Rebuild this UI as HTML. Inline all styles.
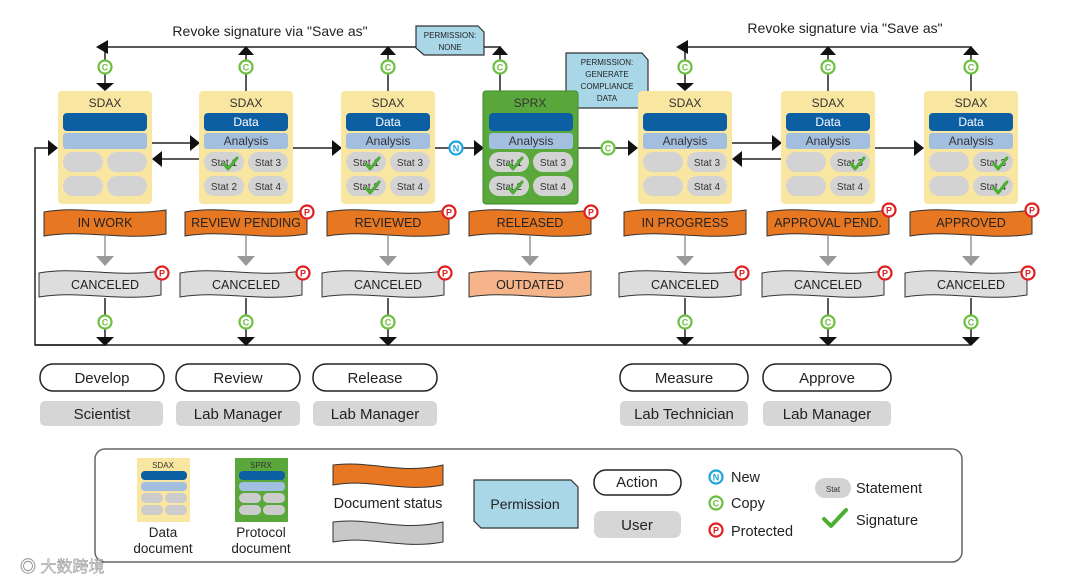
<!DOCTYPE html>
<html><head><meta charset="utf-8"><style>
html,body{margin:0;padding:0;background:#fff;}
svg{display:block;font-family:"Liberation Sans",sans-serif;}
</style></head><body>
<svg width="1080" height="584" viewBox="0 0 1080 584" xmlns="http://www.w3.org/2000/svg">
<defs>
<g id="cC"><circle r="6.5" fill="#fff" stroke="#6cbf3f" stroke-width="2.2"/><text y="3.5" text-anchor="middle" font-size="9" font-weight="bold" fill="#6cbf3f">C</text></g>
<g id="cP"><circle r="6.5" fill="#fff" stroke="#e02020" stroke-width="2.2"/><text y="3.5" text-anchor="middle" font-size="9" font-weight="bold" fill="#e02020">P</text></g>
<g id="cN"><circle r="6.5" fill="#fff" stroke="#1fa3dc" stroke-width="2.2"/><text y="3.5" text-anchor="middle" font-size="9" font-weight="bold" fill="#1fa3dc">N</text></g>
<path id="chk" d="M-6,0 L-2,5 L7,-6" fill="none" stroke="#4caf33" stroke-width="3" stroke-linecap="round" stroke-linejoin="round"/>
<path id="ban" d="M0,3 C37,-4 74,8 122,1 L122,25 C80,32 40,20 0,27 Z"/>
</defs>
<g stroke="#222" stroke-width="1.5" fill="none">
<polyline points="105,88 105,47 416,47"/>
<line x1="246" y1="47" x2="246" y2="91"/>
<line x1="388" y1="47" x2="388" y2="91"/>
<polyline points="484,47 500,47 500,91"/>
<polyline points="685,88 685,47 971,47 971,91"/>
<line x1="828" y1="47" x2="828" y2="91"/>
<polyline points="105,298 105,345 35,345 35,148 52,148"/>
<line x1="35" y1="345" x2="970" y2="345"/>
<line x1="246" y1="298" x2="246" y2="345"/>
<line x1="388" y1="298" x2="388" y2="345"/>
<line x1="685" y1="298" x2="685" y2="345"/>
<line x1="828" y1="298" x2="828" y2="345"/>
<line x1="971" y1="298" x2="971" y2="345"/>
<line x1="152" y1="143" x2="195" y2="143"/>
<line x1="200" y1="159" x2="158" y2="159"/>
<line x1="293" y1="148" x2="336" y2="148"/>
<line x1="435" y1="148" x2="478" y2="148"/>
<line x1="577" y1="148" x2="632" y2="148"/>
<line x1="732" y1="143" x2="776" y2="143"/>
<line x1="781" y1="159" x2="738" y2="159"/>
<line x1="875" y1="148" x2="918" y2="148"/>
</g>
<g fill="#111">
<polygon points="96,47 108,40 108,54"/>
<polygon points="96,83 114,83 105,91"/>
<polygon points="238,55 254,55 246,46"/>
<polygon points="380,55 396,55 388,46"/>
<polygon points="492,55 508,55 500,46"/>
<polygon points="676,47 688,40 688,54"/>
<polygon points="676,83 694,83 685,91"/>
<polygon points="820,55 836,55 828,46"/>
<polygon points="963,55 979,55 971,46"/>
<polygon points="58,148 48,140 48,156"/>
<polygon points="200,143 190,135 190,151"/>
<polygon points="152,159 162,151 162,167"/>
<polygon points="342,148 332,140 332,156"/>
<polygon points="484,148 474,140 474,156"/>
<polygon points="638,148 628,140 628,156"/>
<polygon points="782,143 772,135 772,151"/>
<polygon points="732,159 742,151 742,167"/>
<polygon points="924,148 914,140 914,156"/>
<polygon points="96,337 114,337 105,346"/><polygon points="237,337 255,337 246,346"/><polygon points="379,337 397,337 388,346"/>
<polygon points="676,337 694,337 685,346"/><polygon points="819,337 837,337 828,346"/><polygon points="962,337 980,337 971,346"/>
</g>
<text x="270" y="36" text-anchor="middle" font-size="14" fill="#222">Revoke signature via "Save as"</text>
<text x="845" y="33" text-anchor="middle" font-size="14" fill="#222">Revoke signature via "Save as"</text>
<path d="M416,26 L478,26 L484,32 L484,55 L424,55 L416,48 Z" fill="#a9d7e8" stroke="#333" stroke-width="1.2"/>
<text x="450" y="38" text-anchor="middle" font-size="8" fill="#222">PERMISSION:</text>
<text x="450" y="50" text-anchor="middle" font-size="8" fill="#222">NONE</text>
<path d="M566,53 L642,53 L648,60 L648,108 L574,108 L566,101 Z" fill="#a9d7e8" stroke="#333" stroke-width="1.2"/>
<g font-size="8" fill="#222" text-anchor="middle"><text x="607" y="65">PERMISSION:</text><text x="607" y="77">GENERATE</text><text x="607" y="89">COMPLIANCE</text><text x="607" y="101">DATA</text></g>
<use href="#cC" x="105" y="67"/><use href="#cC" x="246" y="67"/><use href="#cC" x="388" y="67"/><use href="#cC" x="500" y="67"/>
<use href="#cC" x="685" y="67"/><use href="#cC" x="828" y="67"/><use href="#cC" x="971" y="67"/>
<use href="#cC" x="105" y="322"/><use href="#cC" x="246" y="322"/><use href="#cC" x="388" y="322"/>
<use href="#cC" x="685" y="322"/><use href="#cC" x="828" y="322"/><use href="#cC" x="971" y="322"/>
<use href="#cN" x="456" y="148"/><use href="#cC" x="608" y="148"/>
<g font-size="12" text-anchor="middle">
<rect x="58" y="91" width="94" height="113" rx="4" fill="#f9e6a0"/>
<text x="105" y="107" fill="#333">SDAX</text>
<rect x="63" y="113" width="84" height="18" rx="4" fill="#0d5fa3"/>
<rect x="63" y="133" width="84" height="16" rx="3" fill="#a3bfe0"/>
<rect x="63" y="152" width="40" height="20" rx="10" fill="#d3d3d3"/><rect x="107" y="152" width="40" height="20" rx="10" fill="#d3d3d3"/>
<rect x="63" y="176" width="40" height="20" rx="10" fill="#d3d3d3"/><rect x="107" y="176" width="40" height="20" rx="10" fill="#d3d3d3"/>
</g>
<g font-size="12" text-anchor="middle" fill="#333">
<rect x="199" y="91" width="94" height="113" rx="4" fill="#f9e6a0"/>
<text x="246" y="107">SDAX</text>
<rect x="204" y="113" width="84" height="18" rx="4" fill="#0d5fa3"/><text x="246" y="126" fill="#fff">Data</text>
<rect x="204" y="133" width="84" height="16" rx="3" fill="#a3bfe0"/><text x="246" y="145">Analysis</text>
<rect x="204" y="152" width="40" height="20" rx="10" fill="#d3d3d3"/><rect x="248" y="152" width="40" height="20" rx="10" fill="#d3d3d3"/>
<rect x="204" y="176" width="40" height="20" rx="10" fill="#d3d3d3"/><rect x="248" y="176" width="40" height="20" rx="10" fill="#d3d3d3"/>
<g font-size="10"><text x="224" y="166">Stat 1</text><text x="268" y="166">Stat 3</text><text x="224" y="190">Stat 2</text><text x="268" y="190">Stat 4</text></g>
<use href="#chk" x="230" y="164"/>

<rect x="341" y="91" width="94" height="113" rx="4" fill="#f9e6a0"/>
<text x="388" y="107">SDAX</text>
<rect x="346" y="113" width="84" height="18" rx="4" fill="#0d5fa3"/><text x="388" y="126" fill="#fff">Data</text>
<rect x="346" y="133" width="84" height="16" rx="3" fill="#a3bfe0"/><text x="388" y="145">Analysis</text>
<rect x="346" y="152" width="40" height="20" rx="10" fill="#d3d3d3"/><rect x="390" y="152" width="40" height="20" rx="10" fill="#d3d3d3"/>
<rect x="346" y="176" width="40" height="20" rx="10" fill="#d3d3d3"/><rect x="390" y="176" width="40" height="20" rx="10" fill="#d3d3d3"/>
<g font-size="10"><text x="366" y="166">Stat 1</text><text x="410" y="166">Stat 3</text><text x="366" y="190">Stat 2</text><text x="410" y="190">Stat 4</text></g>
<use href="#chk" x="372" y="164"/><use href="#chk" x="372" y="188"/>

<rect x="483" y="91" width="95" height="113" rx="3" fill="#5aa83c" stroke="#3e8a2a"/>
<text x="530" y="107">SPRX</text>
<rect x="489" y="113" width="84" height="18" rx="4" fill="#0d5fa3"/>
<rect x="489" y="133" width="84" height="16" rx="3" fill="#a3bfe0"/><text x="531" y="145">Analysis</text>
<rect x="489" y="152" width="40" height="20" rx="10" fill="#d3d3d3"/><rect x="533" y="152" width="40" height="20" rx="10" fill="#d3d3d3"/>
<rect x="489" y="176" width="40" height="20" rx="10" fill="#d3d3d3"/><rect x="533" y="176" width="40" height="20" rx="10" fill="#d3d3d3"/>
<g font-size="10"><text x="509" y="166">Stat 1</text><text x="553" y="166">Stat 3</text><text x="509" y="190">Stat 2</text><text x="553" y="190">Stat 4</text></g>
<use href="#chk" x="515" y="164"/><use href="#chk" x="515" y="188"/>

<rect x="638" y="91" width="94" height="113" rx="4" fill="#f9e6a0"/>
<text x="685" y="107">SDAX</text>
<rect x="643" y="113" width="84" height="18" rx="4" fill="#0d5fa3"/>
<rect x="643" y="133" width="84" height="16" rx="3" fill="#a3bfe0"/><text x="685" y="145">Analysis</text>
<rect x="643" y="152" width="40" height="20" rx="10" fill="#d3d3d3"/><rect x="687" y="152" width="40" height="20" rx="10" fill="#d3d3d3"/>
<rect x="643" y="176" width="40" height="20" rx="10" fill="#d3d3d3"/><rect x="687" y="176" width="40" height="20" rx="10" fill="#d3d3d3"/>
<g font-size="10"><text x="707" y="166">Stat 3</text><text x="707" y="190">Stat 4</text></g>

<rect x="781" y="91" width="94" height="113" rx="4" fill="#f9e6a0"/>
<text x="828" y="107">SDAX</text>
<rect x="786" y="113" width="84" height="18" rx="4" fill="#0d5fa3"/><text x="828" y="126" fill="#fff">Data</text>
<rect x="786" y="133" width="84" height="16" rx="3" fill="#a3bfe0"/><text x="828" y="145">Analysis</text>
<rect x="786" y="152" width="40" height="20" rx="10" fill="#d3d3d3"/><rect x="830" y="152" width="40" height="20" rx="10" fill="#d3d3d3"/>
<rect x="786" y="176" width="40" height="20" rx="10" fill="#d3d3d3"/><rect x="830" y="176" width="40" height="20" rx="10" fill="#d3d3d3"/>
<g font-size="10"><text x="850" y="166">Stat 3</text><text x="850" y="190">Stat 4</text></g>
<use href="#chk" x="857" y="164"/>

<rect x="924" y="91" width="94" height="113" rx="4" fill="#f9e6a0"/>
<text x="971" y="107">SDAX</text>
<rect x="929" y="113" width="84" height="18" rx="4" fill="#0d5fa3"/><text x="971" y="126" fill="#fff">Data</text>
<rect x="929" y="133" width="84" height="16" rx="3" fill="#a3bfe0"/><text x="971" y="145">Analysis</text>
<rect x="929" y="152" width="40" height="20" rx="10" fill="#d3d3d3"/><rect x="973" y="152" width="40" height="20" rx="10" fill="#d3d3d3"/>
<rect x="929" y="176" width="40" height="20" rx="10" fill="#d3d3d3"/><rect x="973" y="176" width="40" height="20" rx="10" fill="#d3d3d3"/>
<g font-size="10"><text x="993" y="166">Stat 3</text><text x="993" y="190">Stat 4</text></g>
<use href="#chk" x="1000" y="164"/><use href="#chk" x="1000" y="188"/>
</g>
<g stroke="#333" stroke-width="1">
<use href="#ban" x="44" y="209" fill="#e87722"/><use href="#ban" x="185" y="209" fill="#e87722"/><use href="#ban" x="327" y="209" fill="#e87722"/>
<use href="#ban" x="469" y="209" fill="#e87722"/><use href="#ban" x="624" y="209" fill="#e87722"/><use href="#ban" x="767" y="209" fill="#e87722"/><use href="#ban" x="910" y="209" fill="#e87722"/>
<use href="#ban" x="39" y="270" fill="#dddddd"/><use href="#ban" x="180" y="270" fill="#dddddd"/><use href="#ban" x="322" y="270" fill="#dddddd"/>
<use href="#ban" x="469" y="270" fill="#f5b48a"/><use href="#ban" x="619" y="270" fill="#dddddd"/><use href="#ban" x="762" y="270" fill="#dddddd"/><use href="#ban" x="905" y="270" fill="#dddddd"/>
</g>
<g font-size="12.5" fill="#222" text-anchor="middle">
<text x="105" y="227">IN WORK</text><text x="246" y="227">REVIEW PENDING</text><text x="388" y="227">REVIEWED</text><text x="530" y="227">RELEASED</text>
<text x="685" y="227">IN PROGRESS</text><text x="828" y="227">APPROVAL PEND.</text><text x="971" y="227">APPROVED</text>
<text x="105" y="289">CANCELED</text><text x="246" y="289">CANCELED</text><text x="388" y="289">CANCELED</text><text x="530" y="289">OUTDATED</text>
<text x="685" y="289">CANCELED</text><text x="828" y="289">CANCELED</text><text x="971" y="289">CANCELED</text>
</g>
<g stroke="#999" stroke-width="1.5"><line x1="105" y1="236" x2="105" y2="258"/><line x1="246" y1="236" x2="246" y2="258"/><line x1="388" y1="236" x2="388" y2="258"/><line x1="530" y1="236" x2="530" y2="258"/><line x1="685" y1="236" x2="685" y2="258"/><line x1="828" y1="236" x2="828" y2="258"/><line x1="971" y1="236" x2="971" y2="258"/></g>
<g fill="#999"><polygon points="96,256 114,256 105,266"/><polygon points="237,256 255,256 246,266"/><polygon points="379,256 397,256 388,266"/><polygon points="521,256 539,256 530,266"/><polygon points="676,256 694,256 685,266"/><polygon points="819,256 837,256 828,266"/><polygon points="962,256 980,256 971,266"/></g>
<use href="#cP" x="307" y="212"/><use href="#cP" x="449" y="212"/><use href="#cP" x="591" y="212"/><use href="#cP" x="889" y="210"/><use href="#cP" x="1032" y="210"/>
<use href="#cP" x="162" y="273"/><use href="#cP" x="303" y="273"/><use href="#cP" x="445" y="273"/><use href="#cP" x="742" y="273"/><use href="#cP" x="885" y="273"/><use href="#cP" x="1028" y="273"/>
<g fill="#fff" stroke="#222" stroke-width="1.5">
<rect x="40" y="364" width="124" height="27" rx="13"/><rect x="176" y="364" width="124" height="27" rx="13"/><rect x="313" y="364" width="124" height="27" rx="13"/>
<rect x="620" y="364" width="128" height="27" rx="13"/><rect x="763" y="364" width="128" height="27" rx="13"/>
</g>
<g fill="#d6d6d6"><rect x="40" y="401" width="123" height="25" rx="5"/><rect x="176" y="401" width="124" height="25" rx="5"/><rect x="313" y="401" width="124" height="25" rx="5"/><rect x="620" y="401" width="128" height="25" rx="5"/><rect x="763" y="401" width="128" height="25" rx="5"/></g>
<g font-size="15" fill="#222" text-anchor="middle">
<text x="102" y="383">Develop</text><text x="238" y="383">Review</text><text x="375" y="383">Release</text><text x="684" y="383">Measure</text><text x="827" y="383">Approve</text>
<text x="102" y="419">Scientist</text><text x="238" y="419">Lab Manager</text><text x="375" y="419">Lab Manager</text><text x="684" y="419">Lab Technician</text><text x="827" y="419">Lab Manager</text>
</g>
<rect x="95" y="449" width="867" height="113" rx="10" fill="#fff" stroke="#666" stroke-width="1.5"/>
<rect x="137" y="458" width="53" height="64" fill="#f9e6a0"/>
<text x="163" y="468" font-size="8" text-anchor="middle" fill="#333">SDAX</text>
<rect x="141" y="471" width="46" height="9" rx="4" fill="#0d5fa3"/><rect x="141" y="482" width="46" height="9" rx="4" fill="#a3bfe0"/>
<rect x="141" y="493" width="22" height="10" rx="5" fill="#ccc"/><rect x="165" y="493" width="22" height="10" rx="5" fill="#ccc"/>
<rect x="141" y="505" width="22" height="10" rx="5" fill="#ccc"/><rect x="165" y="505" width="22" height="10" rx="5" fill="#ccc"/>
<rect x="235" y="458" width="53" height="64" fill="#5aa83c"/>
<text x="261" y="468" font-size="8" text-anchor="middle" fill="#333">SPRX</text>
<rect x="239" y="471" width="46" height="9" rx="4" fill="#0d5fa3"/><rect x="239" y="482" width="46" height="9" rx="4" fill="#a3bfe0"/>
<rect x="239" y="493" width="22" height="10" rx="5" fill="#ccc"/><rect x="263" y="493" width="22" height="10" rx="5" fill="#ccc"/>
<rect x="239" y="505" width="22" height="10" rx="5" fill="#ccc"/><rect x="263" y="505" width="22" height="10" rx="5" fill="#ccc"/>
<g font-size="13.5" fill="#222" text-anchor="middle">
<text x="163" y="537">Data</text><text x="163" y="553">document</text>
<text x="261" y="537">Protocol</text><text x="261" y="553">document</text>
<text x="388" y="508" font-size="14.5">Document status</text>
</g>
<path d="M333,465 C370,460 400,475 443,465 L443,485 C400,493 370,478 333,485 Z" fill="#e87722" stroke="#333"/>
<path d="M333,522 C370,517 400,532 443,522 L443,542 C400,550 370,535 333,542 Z" fill="#c8c8c8" stroke="#333"/>
<path d="M474,480 L571,480 L578,487 L578,528 L481,528 L474,521 Z" fill="#a9d7e8" stroke="#333" stroke-width="1.2"/>
<text x="525" y="509" font-size="14" text-anchor="middle" fill="#222">Permission</text>
<rect x="594" y="470" width="87" height="25" rx="12" fill="#fff" stroke="#222" stroke-width="1.5"/>
<text x="637" y="487" font-size="15" text-anchor="middle" fill="#222">Action</text>
<rect x="594" y="511" width="87" height="27" rx="7" fill="#d6d6d6"/>
<text x="637" y="530" font-size="15" text-anchor="middle" fill="#222">User</text>
<use href="#cN" x="716" y="477"/><use href="#cC" x="716" y="503"/><use href="#cP" x="716" y="530"/>
<g font-size="14.5" fill="#222"><text x="731" y="482">New</text><text x="731" y="508">Copy</text><text x="731" y="536">Protected</text>
<text x="856" y="493">Statement</text><text x="856" y="525">Signature</text></g>
<rect x="815" y="478" width="36" height="20" rx="10" fill="#d3d3d3"/>
<text x="833" y="492" font-size="8" text-anchor="middle" fill="#333">Stat</text>
<path d="M824,519 L831,526 L846,510" fill="none" stroke="#4caf33" stroke-width="4" stroke-linecap="round" stroke-linejoin="round"/>
<text x="20" y="572" font-size="16" fill="#ddd" stroke="#888" stroke-width="0.4" font-family="'Liberation Sans','Noto Sans CJK SC',sans-serif">◎ 大数跨境</text>
</svg>
</body></html>
